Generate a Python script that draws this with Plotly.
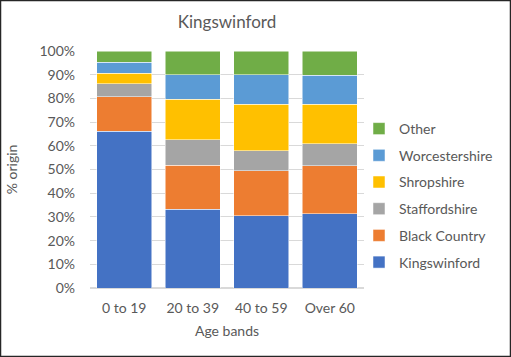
import plotly.graph_objects as go

categories = ["0 to 19", "20 to 39", "40 to 59", "Over 60"]
kingswinford = [0.661, 0.333, 0.305, 0.314]
black_country = [0.145, 0.186, 0.189, 0.202]
staffordshire = [0.056, 0.107, 0.085, 0.092]
shropshire = [0.044, 0.170, 0.196, 0.167]
worcestershire = [0.046, 0.104, 0.124, 0.122]
other = [0.048, 0.100, 0.101, 0.103]

series = [
    ("Kingswinford", kingswinford, "#4472C4"),
    ("Black Country", black_country, "#ED7D31"),
    ("Staffordshire", staffordshire, "#A5A5A5"),
    ("Shropshire", shropshire, "#FFC000"),
    ("Worcestershire", worcestershire, "#5B9BD5"),
    ("Other", other, "#70AD47"),
]

fig = go.Figure()
n = len(series)
for i, (name, vals, color) in enumerate(series):
    fig.add_trace(go.Bar(
        x=categories, y=vals, name=name, legendgroup=name, legendrank=1000 + (n - i),
        marker=dict(color=color, line=dict(color="white", width=0.5)),
    ))

W, H = 511, 357
ml, mr, mt, mb = 90, 147, 51, 69
pw, ph = W - ml - mr, H - mt - mb

fig.update_layout(
    width=W, height=H,
    margin=dict(l=ml, r=mr, t=mt, b=mb, autoexpand=False),
    barmode="stack", bargap=0.2,
    paper_bgcolor="white", plot_bgcolor="white",
    font=dict(family="Lato, Carlito, Calibri, sans-serif", size=13, color="#595959"),
    title=dict(text="Kingswinford", x=0.5, xref="paper", xanchor="center", y=1 - 22 / H, yanchor="middle",
               font=dict(size=17, color="#595959")),
    showlegend=True,
    legend=dict(traceorder="grouped", x=1 - 5 / pw, xanchor="left", y=1 - (113 - mt) / ph,
                yanchor="top",
                font=dict(size=14, color="#595959"), tracegroupgap=5.5, itemwidth=30,
                bgcolor="rgba(0,0,0,0)"),
    xaxis=dict(showgrid=False, showline=False, ticks="", tickfont=dict(size=14), automargin=False,
               ticklabelstandoff=10,
               title=dict(text="Age bands", font=dict(size=14), standoff=11)),
    yaxis=dict(range=[0, 1], dtick=0.1, tickformat=".0%", showgrid=True, gridcolor="#D9D9D9",
               gridwidth=1, zeroline=True, zerolinecolor="#D9D9D9", showline=False, ticks="",
               tickfont=dict(size=14), automargin=False, ticklabelstandoff=14,
               title=dict(text="% origin", font=dict(size=14), standoff=18)),
    shapes=[dict(type="rect", xref="paper", yref="paper",
                 x0=-(ml - 0.5) / pw, x1=1 + (mr - 0.5) / pw,
                 y0=-(mb - 0.5) / ph, y1=1 + (mt - 0.5) / ph,
                 line=dict(color="#262626", width=1.5), layer="above")],
)

fig.write_html("out.html", config={"displayModeBar": False},
               post_script="document.body.style.margin='0';document.body.style.overflow='hidden';")
